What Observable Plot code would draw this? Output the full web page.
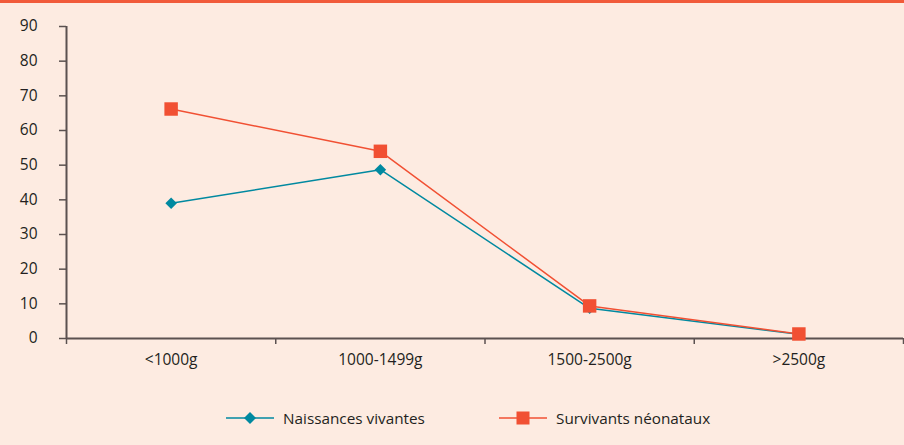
<!DOCTYPE html>
<html>
<head>
<meta charset="utf-8">
<script src="https://cdn.jsdelivr.net/npm/d3@7"></script>
<script src="https://cdn.jsdelivr.net/npm/@observablehq/plot@0.6"></script>
<style>
  html, body { margin: 0; padding: 0; background: #fdebe1; width: 904px; height: 445px; overflow: hidden; }
  #bar { height: 3px; background: #f15a3a; }
  #legend { font-family: "Open Sans", sans-serif; font-size: 15.3px; color: #231f20; height: 52px; position: relative; }
  .item { position: absolute; top: 17px; display: flex; align-items: center; }
  .item svg { margin-right: 9px; }
</style>
</head>
<body>
<div id="bar"></div>
<div id="chart"></div>
<div id="legend"></div>
<script>
const categories = ["<1000g", "1000-1499g", "1500-2500g", ">2500g"];
const naissances = [39, 48.7, 8.7, 1.2];
const survivants = [66.2, 54, 9.4, 1.3];
const seriesNames = ["Naissances vivantes", "Survivants néonataux"];
const yTicks = [0, 10, 20, 30, 40, 50, 60, 70, 80, 90];

const blue = "#0089a0", red = "#f15033", axisColor = "#5b5150", textColor = "#231f20";

const rows = (vals, s) => vals.map((v, i) => ({cat: categories[i], i: i + 0.5, v, s}));
const dataN = rows(naissances, seriesNames[0]);
const dataS = rows(survivants, seriesNames[1]);

const chart = Plot.plot({
  width: 904,
  height: 388,
  marginTop: 23,
  marginLeft: 66,
  marginRight: 1,
  marginBottom: 53,
  style: {background: "transparent", fontFamily: "'Open Sans', sans-serif", fontSize: "15.5px", color: textColor},
  x: {domain: [0, categories.length], axis: null},
  y: {domain: [0, 90], axis: null},
  marks: [
    Plot.axisY({ticks: yTicks, label: null, tickSize: 7, tickPadding: 22, stroke: axisColor, strokeWidth: 1.5, fill: textColor, fontSize: 15.5, textAnchor: "end"}),
    Plot.axisX({ticks: d3.range(categories.length + 1), label: null, tickSize: 6, tickFormat: () => "", stroke: axisColor, strokeWidth: 1.5}),
    Plot.axisX({ticks: dataN.map(d => d.i), label: null, tickSize: 0, tickPadding: 15, tickFormat: t => categories[Math.floor(t)], fill: textColor, fontSize: 15.5}),
    Plot.ruleX([0], {y1: 0, y2: 90, stroke: axisColor, strokeWidth: 2}),
    Plot.ruleY([0], {stroke: axisColor, strokeWidth: 2}),
    Plot.line(dataN, {x: "i", y: "v", stroke: blue, strokeWidth: 1.5}),
    Plot.dot(dataN, {x: "i", y: "v", symbol: "diamond2", r: 5.2, fill: blue, stroke: "none"}),
    Plot.line(dataS, {x: "i", y: "v", stroke: red, strokeWidth: 1.5}),
    Plot.dot(dataS, {x: "i", y: "v", symbol: "square", r: 7.6, fill: red, stroke: "none"})
  ]
});
document.getElementById("chart").appendChild(chart);

// Legend
const legend = document.getElementById("legend");
const items = [
  {name: seriesNames[0], color: blue, marker: "diamond", left: 226},
  {name: seriesNames[1], color: red, marker: "square", left: 499}
];
for (const it of items) {
  const div = document.createElement("div");
  div.className = "item";
  div.style.left = it.left + "px";
  let m;
  if (it.marker === "diamond") {
    m = `<path d="M24,3 L30,9 L24,15 L18,9 Z" fill="${it.color}"/>`;
  } else {
    m = `<rect x="17.5" y="2.5" width="13" height="13" fill="${it.color}"/>`;
  }
  div.innerHTML = `<svg width="48" height="18"><line x1="0" x2="48" y1="9" y2="9" stroke="${it.color}" stroke-width="1.5"/>${m}</svg><span>${it.name}</span>`;
  legend.appendChild(div);
}
</script>
</body>
</html>
